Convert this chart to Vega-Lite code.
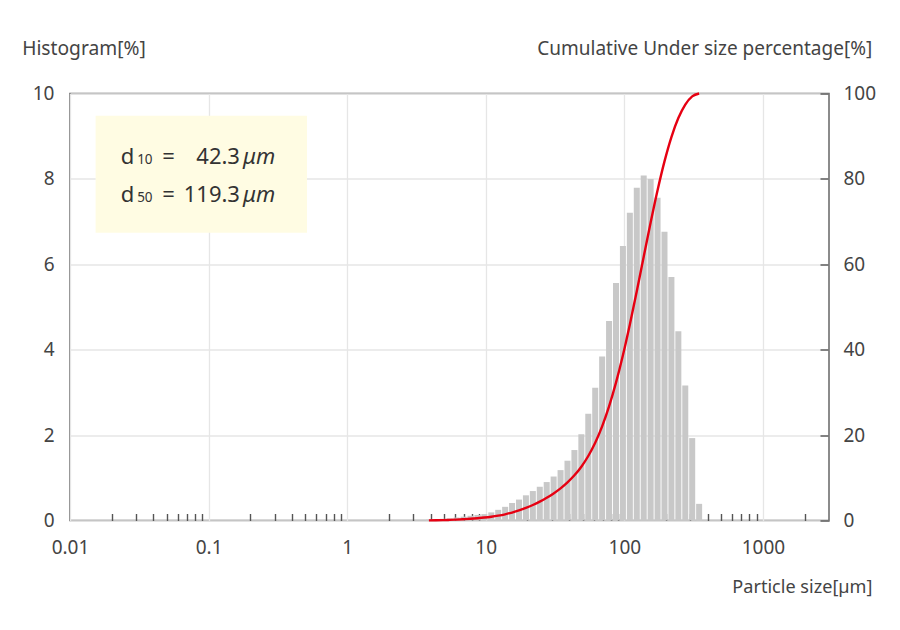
{
  "$schema": "https://vega.github.io/schema/vega-lite/v6.json",
  "width": 759,
  "height": 427,
  "autosize": {"type": "none"},
  "padding": {"left": 70, "top": 93.5, "right": 71, "bottom": 109.5},
  "config": {
    "font": "Noto Sans",
    "view": {"stroke": "#666666", "strokeWidth": 1.5},
    "axis": {
      "labelFont": "Noto Sans",
      "titleFont": "Noto Sans",
      "labelFontSize": 19,
      "labelColor": "#444444",
      "titleFontSize": 18.5,
      "titleFontWeight": "normal",
      "titleColor": "#444444",
      "domain": false,
      "gridColor": "#e6e6e6",
      "gridWidth": 1.3
    }
  },
  "datasets": {
    "psd": [
      {"size": 3.890, "freq": 0.02, "cum": 0.02},
      {"size": 4.365, "freq": 0.03, "cum": 0.05},
      {"size": 4.898, "freq": 0.04, "cum": 0.09},
      {"size": 5.495, "freq": 0.05, "cum": 0.14},
      {"size": 6.166, "freq": 0.07, "cum": 0.21},
      {"size": 6.918, "freq": 0.09, "cum": 0.30},
      {"size": 7.762, "freq": 0.11, "cum": 0.41},
      {"size": 8.710, "freq": 0.13, "cum": 0.54},
      {"size": 9.772, "freq": 0.15, "cum": 0.69},
      {"size": 10.965, "freq": 0.19, "cum": 0.88},
      {"size": 12.303, "freq": 0.25, "cum": 1.13},
      {"size": 13.804, "freq": 0.32, "cum": 1.45},
      {"size": 15.488, "freq": 0.41, "cum": 1.86},
      {"size": 17.378, "freq": 0.49, "cum": 2.35},
      {"size": 19.498, "freq": 0.59, "cum": 2.94},
      {"size": 21.878, "freq": 0.69, "cum": 3.63},
      {"size": 24.547, "freq": 0.79, "cum": 4.42},
      {"size": 27.542, "freq": 0.90, "cum": 5.32},
      {"size": 30.903, "freq": 1.03, "cum": 6.35},
      {"size": 34.674, "freq": 1.18, "cum": 7.53},
      {"size": 38.905, "freq": 1.40, "cum": 8.93},
      {"size": 43.652, "freq": 1.65, "cum": 10.58},
      {"size": 48.978, "freq": 2.02, "cum": 12.60},
      {"size": 54.954, "freq": 2.50, "cum": 15.10},
      {"size": 61.660, "freq": 3.11, "cum": 18.21},
      {"size": 69.183, "freq": 3.84, "cum": 22.05},
      {"size": 77.625, "freq": 4.67, "cum": 26.72},
      {"size": 87.096, "freq": 5.56, "cum": 32.28},
      {"size": 97.724, "freq": 6.43, "cum": 38.71},
      {"size": 109.65, "freq": 7.21, "cum": 45.92},
      {"size": 123.03, "freq": 7.79, "cum": 53.71},
      {"size": 138.04, "freq": 8.08, "cum": 61.79},
      {"size": 154.88, "freq": 8.00, "cum": 69.79},
      {"size": 173.78, "freq": 7.56, "cum": 77.35},
      {"size": 194.98, "freq": 6.76, "cum": 84.11},
      {"size": 218.78, "freq": 5.70, "cum": 89.81},
      {"size": 245.47, "freq": 4.43, "cum": 94.24},
      {"size": 275.42, "freq": 3.16, "cum": 97.40},
      {"size": 309.03, "freq": 1.93, "cum": 99.33},
      {"size": 346.74, "freq": 0.39, "cum": 100}
    ]
  },
  "layer": [
    {
      "layer": [
        {
          "data": {"values": [{"note": "box"}]},
          "mark": {"type": "rect", "fill": "#fffce3"},
          "encoding": {
            "x": {"datum": 0.0153, "type": "quantitative"},
            "x2": {"datum": 0.513},
            "y": {"datum": 9.48, "type": "quantitative"},
            "y2": {"datum": 6.74}
          }
        },
        {
          "data": {"name": "psd"},
          "mark": {"type": "bar", "color": "#c8c8c8", "size": 6},
          "encoding": {
            "x": {
              "field": "size",
              "type": "quantitative",
              "scale": {"type": "log", "domain": [0.01, 3000], "nice": false, "padding": 0},
              "axis": {
                "orient": "bottom",
                "values": [0.01, 0.02, 0.03, 0.04, 0.05, 0.06, 0.07, 0.08, 0.09,
                           0.1, 0.2, 0.3, 0.4, 0.5, 0.6, 0.7, 0.8, 0.9,
                           1, 2, 3, 4, 5, 6, 7, 8, 9,
                           10, 20, 30, 40, 50, 60, 70, 80, 90,
                           100, 200, 300, 400, 500, 600, 700, 800, 900,
                           1000, 2000],
                "labelExpr": "indexof([0.01, 0.1, 1, 10, 100, 1000], datum.value) >= 0 ? toString(datum.value) : ''",
                "labelOverlap": false,
                "labelFlush": false,
                "labelPadding": 25,
                "tickSize": -7,
                "tickColor": "#555555",
                "tickWidth": 1.4,
                "tickOpacity": {"condition": {"test": "indexof([0.01, 0.1, 1, 10, 100, 1000], datum.value) >= 0", "value": 0}, "value": 1},
                "grid": true,
                "gridOpacity": {"condition": {"test": "indexof([0.01, 0.1, 1, 10, 100, 1000], datum.value) >= 0", "value": 1}, "value": 0},
                "title": "Particle size[µm]",
                "titleFontSize": 18.1,
                "titleX": 802,
                "titleY": 72,
                "titleAlign": "right",
                "titleAnchor": "end",
                "titleBaseline": "alphabetic"
              }
            },
            "y": {
              "field": "freq",
              "type": "quantitative",
              "scale": {"domain": [0, 10], "nice": false},
              "axis": {
                "orient": "left",
                "values": [0, 2, 4, 6, 8, 10],
                "ticks": false,
                "labelPadding": 16,
                "grid": true,
                "title": "Histogram[%]",
                "titleFontSize": 19.2,
                "titleAngle": 0,
                "titleAlign": "left",
                "titleBaseline": "alphabetic",
                "titleX": -48.3,
                "titleY": -39.2
              }
            }
          }
        },
        {
          "data": {"values": [{"note": "d"}]},
          "mark": {"type": "text", "text": ["d", "d"], "align": "left", "baseline": "alphabetic", "fontSize": 22, "lineHeight": 37.7, "color": "#333333", "font": "Noto Sans"},
          "encoding": {
            "x": {"datum": 0.0232, "type": "quantitative"},
            "y": {"datum": 8.35, "type": "quantitative"}
          }
        },
        {
          "data": {"values": [{"note": "sub"}]},
          "mark": {"type": "text", "text": ["10", "50"], "align": "left", "baseline": "alphabetic", "fontSize": 13.5, "lineHeight": 37.7, "dx": 16.5, "color": "#333333", "font": "Noto Sans"},
          "encoding": {
            "x": {"datum": 0.0232, "type": "quantitative"},
            "y": {"datum": 8.35, "type": "quantitative"}
          }
        },
        {
          "data": {"values": [{"note": "eq"}]},
          "mark": {"type": "text", "text": ["=", "="], "align": "left", "baseline": "alphabetic", "fontSize": 22, "lineHeight": 37.7, "dx": 41.5, "color": "#333333", "font": "Noto Sans"},
          "encoding": {
            "x": {"datum": 0.0232, "type": "quantitative"},
            "y": {"datum": 8.35, "type": "quantitative"}
          }
        },
        {
          "data": {"values": [{"note": "value"}]},
          "mark": {"type": "text", "text": ["42.3", "119.3"], "align": "right", "baseline": "alphabetic", "fontSize": 22, "lineHeight": 37.7, "dx": 119.3, "color": "#333333", "font": "Noto Sans"},
          "encoding": {
            "x": {"datum": 0.0232, "type": "quantitative"},
            "y": {"datum": 8.35, "type": "quantitative"}
          }
        },
        {
          "data": {"values": [{"note": "unit"}]},
          "mark": {"type": "text", "text": ["μm", "μm"], "align": "left", "baseline": "alphabetic", "fontSize": 22, "fontStyle": "italic", "lineHeight": 37.7, "dx": 122.3, "color": "#333333", "font": "Noto Sans"},
          "encoding": {
            "x": {"datum": 0.0232, "type": "quantitative"},
            "y": {"datum": 8.35, "type": "quantitative"}
          }
        }
      ]
    },
    {
      "data": {"name": "psd"},
      "mark": {"type": "line", "color": "#e60012", "strokeWidth": 2.4, "interpolate": "monotone"},
      "encoding": {
        "x": {"field": "size", "type": "quantitative"},
        "y": {
          "field": "cum",
          "type": "quantitative",
          "scale": {"domain": [0, 100], "nice": false},
          "axis": {
            "orient": "right",
            "values": [0, 20, 40, 60, 80, 100],
            "grid": false,
            "tickSize": -9,
            "tickColor": "#555555",
            "tickWidth": 1.4,
            "labelPadding": 23,
            "title": "Cumulative Under size percentage[%]",
            "titleFontSize": 19,
            "titleAngle": 0,
            "titleAlign": "right",
            "titleBaseline": "alphabetic",
            "titleX": 42.7,
            "titleY": -39.2
          }
        }
      }
    }
  ],
  "resolve": {"scale": {"y": "independent"}}
}
